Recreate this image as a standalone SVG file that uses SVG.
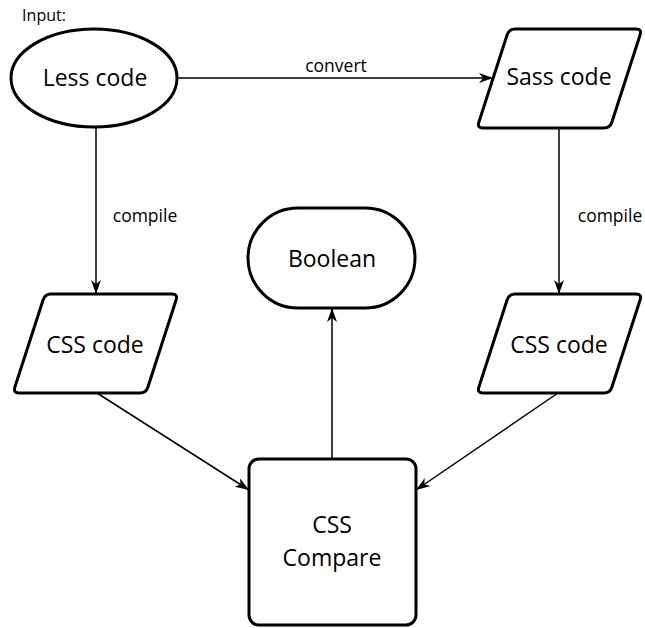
<svg xmlns="http://www.w3.org/2000/svg" width="645" height="628" viewBox="0 0 645 628">
<style>
.node{fill:#fff;stroke:#000;stroke-width:3}
.t{font-family:"Open Sans","Noto Sans",sans-serif;fill:#000;text-anchor:middle}
.big{font-size:23px}
.lbl{font-size:17.5px}
.edge{fill:none;stroke:#000;stroke-width:1.5}
</style>
<defs>
<marker id="arr" viewBox="0 0 14 10" refX="14" refY="5" markerWidth="14" markerHeight="10" markerUnits="userSpaceOnUse" orient="auto">
<path d="M0,0 L14,5 L0,10 L4,5 Z" fill="#000"/>
</marker>
<path id="para" d="M38,0 L159,0 Q165,0 163.15,5.71 L134.85,93.29 Q133,99 127,99 L6,99 Q0,99 1.85,93.29 L30.15,5.71 Q32,0 38,0 Z"/>
</defs>
<rect width="645" height="628" fill="#fff"/>
<text class="t" style="font-size:16px" x="44" y="21">Input:</text>
<g id="edges">
<path class="edge" d="M178,78 L493,78" marker-end="url(#arr)"/>
<path class="edge" d="M96,128 L96,294" marker-end="url(#arr)"/>
<path class="edge" d="M559,128 L559,294" marker-end="url(#arr)"/>
<path class="edge" d="M97,393 L249,490" marker-end="url(#arr)"/>
<path class="edge" d="M558,393 L416,490" marker-end="url(#arr)"/>
<path class="edge" d="M332,459 L332,308" marker-end="url(#arr)"/>
<text class="t lbl" x="336" y="72">convert</text>
<text class="t lbl" x="145" y="222">compile</text>
<text class="t lbl" x="610" y="222">compile</text>
</g>
<g id="less">
<ellipse class="node" cx="94" cy="78" rx="83" ry="49"/>
<text class="t big" x="95" y="86">Less code</text>
</g>
<g id="sass">
<use href="#para" class="node" transform="translate(477,29)"/>
<text class="t big" x="559" y="85">Sass code</text>
</g>
<g id="cssLeft">
<use href="#para" class="node" transform="translate(13,294)"/>
<text class="t big" x="95" y="353">CSS code</text>
</g>
<g id="cssRight">
<use href="#para" class="node" transform="translate(477,294)"/>
<text class="t big" x="559" y="353">CSS code</text>
</g>
<g id="boolean">
<rect class="node" x="248" y="208" width="167" height="100" rx="50" ry="50"/>
<text class="t big" x="332" y="267">Boolean</text>
</g>
<g id="compare">
<rect class="node" x="249" y="459" width="167" height="166" rx="10" ry="10"/>
<text class="t big" x="332" y="533">CSS</text>
<text class="t big" x="332" y="566">Compare</text>
</g>
</svg>
